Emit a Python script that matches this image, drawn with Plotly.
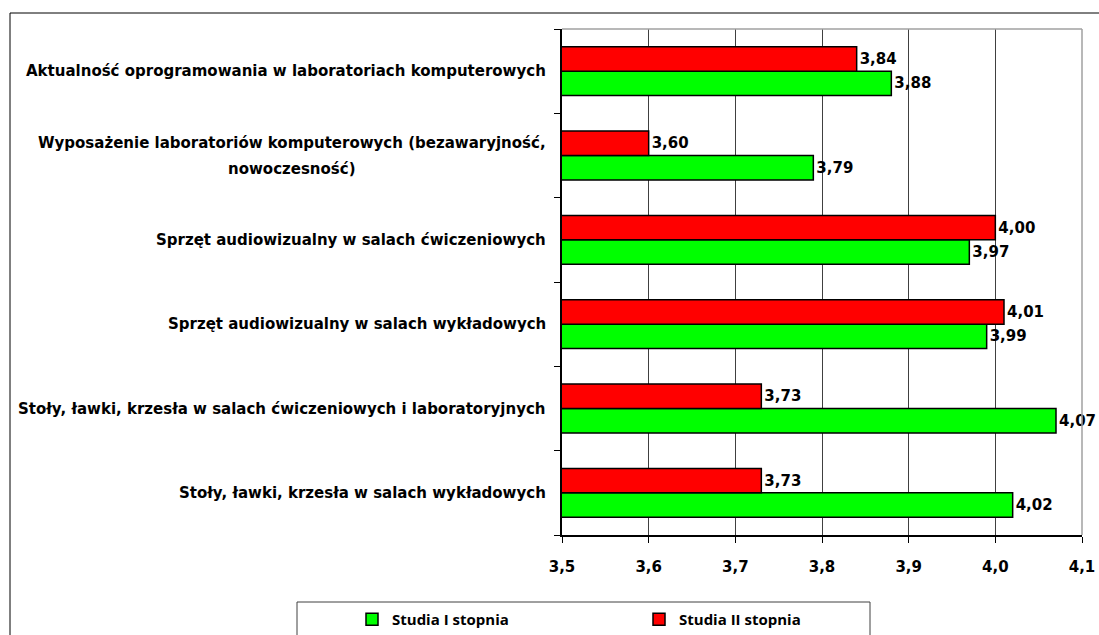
import plotly.graph_objects as go

categories = [
    "Stoły, ławki, krzesła w salach wykładowych",
    "Stoły, ławki, krzesła w salach ćwiczeniowych i laboratoryjnych",
    "Sprzęt audiowizualny w salach wykładowych",
    "Sprzęt audiowizualny w salach ćwiczeniowych",
    "Wyposażenie laboratoriów komputerowych (bezawaryjność, nowoczesność)",
    "Aktualność oprogramowania w laboratoriach komputerowych",
]
label_lines = [
    ["Stoły, ławki, krzesła w salach wykładowych"],
    ["Stoły, ławki, krzesła w salach ćwiczeniowych i laboratoryjnych"],
    ["Sprzęt audiowizualny w salach wykładowych"],
    ["Sprzęt audiowizualny w salach ćwiczeniowych"],
    ["Wyposażenie laboratoriów komputerowych (bezawaryjność,", "nowoczesność)"],
    ["Aktualność oprogramowania w laboratoriach komputerowych"],
]
studia_I = [4.02, 4.07, 3.99, 3.97, 3.79, 3.88]
studia_II = [3.73, 3.73, 4.01, 4.00, 3.60, 3.84]
x_ticks = [3.5, 3.6, 3.7, 3.8, 3.9, 4.0, 4.1]

FONT = "DejaVu Sans"
LEG_FONT = "Open Sans"
W, H = 1099, 635
L, R, T, B = 562, 17, 29, 100
pw, ph = W - L - R, H - T - B


def px_x(p):
    return (p - L) / pw


def px_y(p):
    return 1 - (p - T) / ph


val_font = dict(family=FONT, size=15, color="black", weight="bold")

fig = go.Figure()
fig.add_trace(go.Bar(
    y=categories, x=studia_I, orientation="h", name="Studia I stopnia",
    marker=dict(color="#00FF00", line=dict(color="black", width=1.5)),
    texttemplate="%{x:.2f}", textposition="outside", cliponaxis=False,
    constraintext="none", textfont=val_font,
))
fig.add_trace(go.Bar(
    y=categories, x=studia_II, orientation="h", name="Studia II stopnia",
    marker=dict(color="#FF0000", line=dict(color="black", width=1.5)),
    texttemplate="%{x:.2f}", textposition="outside", cliponaxis=False,
    constraintext="none", textfont=val_font,
))

lab_font = dict(family=FONT, size=15, color="black", weight="bold")
for c, lines in zip(categories, label_lines):
    if len(lines) == 1:
        fig.add_annotation(x=0, xref="paper", y=c, yref="y", text=lines[0],
                           showarrow=False, xanchor="right", xshift=-14,
                           font=lab_font)
    else:
        fig.add_annotation(x=0, xref="paper", y=c, yref="y", text=lines[0],
                           showarrow=False, xanchor="right", xshift=-14,
                           yshift=13, font=lab_font)
        fig.add_annotation(x=0, xref="paper", y=c, yref="y", text=lines[1],
                           showarrow=False, xanchor="center", xshift=-270,
                           yshift=-13, font=lab_font)

# outer chart frame
fig.add_shape(type="rect", xref="paper", yref="paper",
              x0=px_x(10), x1=px_x(1300), y0=px_y(800), y1=px_y(13),
              line=dict(color="black", width=1), layer="below")
# plot-area border (top and right, grey)
fig.add_shape(type="line", xref="paper", yref="paper", x0=0, x1=1, y0=1, y1=1,
              line=dict(color="#a0a0a0", width=1.5))
fig.add_shape(type="line", xref="paper", yref="paper", x0=1, x1=1, y0=0, y1=1,
              line=dict(color="#a0a0a0", width=1.5))
# legend box
fig.add_shape(type="rect", xref="paper", yref="paper",
              x0=px_x(297), x1=px_x(870), y0=px_y(800), y1=px_y(602),
              line=dict(color="#404040", width=1), layer="below")

fig.update_layout(
    width=W, height=H,
    margin=dict(l=L, r=R, t=T, b=B, autoexpand=False),
    paper_bgcolor="white", plot_bgcolor="white",
    barmode="group", bargap=0.42, bargroupgap=0,
    separators=", ",
    showlegend=True,
    legend=dict(
        orientation="h", x=px_x(352), xanchor="left",
        y=px_y(603), yanchor="top",
        borderwidth=0, bgcolor="rgba(0,0,0,0)",
        entrywidth=242, entrywidthmode="pixels",
        font=dict(family=LEG_FONT, size=15, color="black", weight="bold"),
        traceorder="normal",
    ),
    xaxis=dict(
        range=[3.5, 4.1], tickvals=x_ticks, tickformat=".1f",
        showgrid=True, gridcolor="#404040", gridwidth=1,
        showline=True, linecolor="black", linewidth=1.5,
        ticks="outside", ticklen=6, tickcolor="black",
        ticklabelstandoff=11,
        tickfont=dict(family=FONT, size=15, color="black", weight="bold"),
        zeroline=False, fixedrange=True,
    ),
    yaxis=dict(
        type="category", categoryorder="array", categoryarray=categories,
        showticklabels=False, showline=True, linecolor="black", linewidth=1.5,
        ticks="outside", ticklen=6, tickcolor="black", tickson="boundaries",
        showgrid=False, fixedrange=True,
    ),
)

fig.write_html(
    "out.html",
    config={"displayModeBar": False},
    post_script="document.body.style.margin='0';document.body.style.overflow='hidden';",
)
